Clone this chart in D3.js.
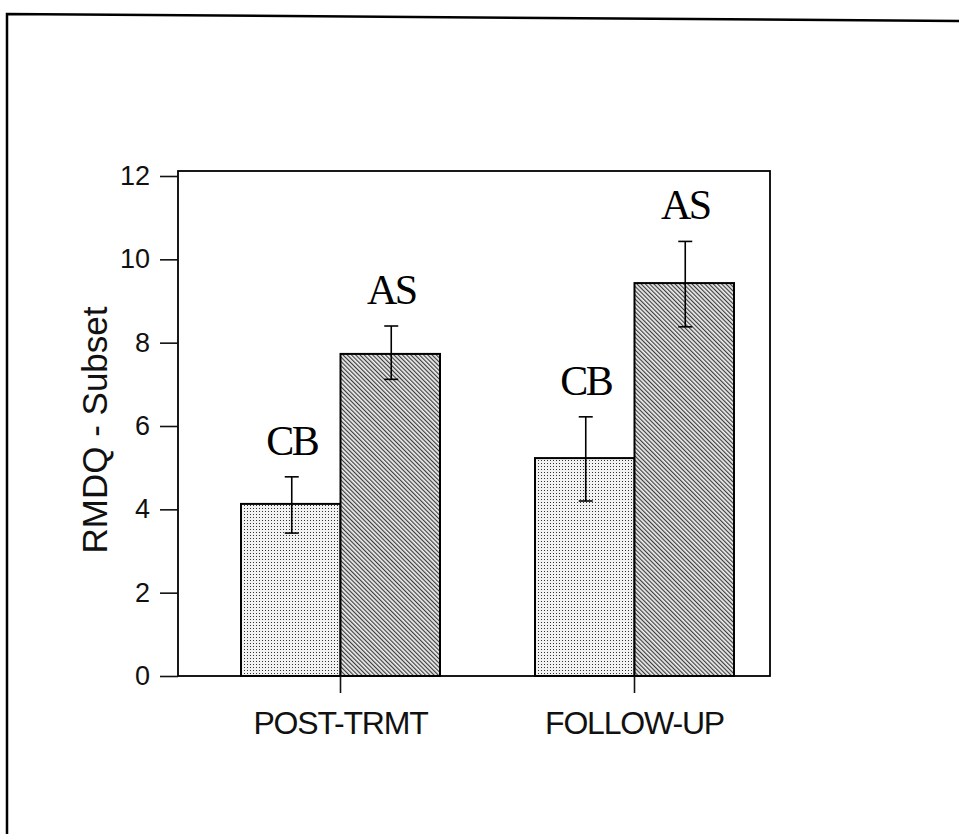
<!DOCTYPE html>
<html>
<head>
    <meta charset="utf-8">
    <title>RMDQ - Subset</title>
    <script src="https://d3js.org/d3.v7.min.js"></script>
    <style>
        body { margin: 0; background: #fff; }
        .tick text { font-family: "Liberation Sans", Arial, sans-serif; fill: #111; }
        .tick line { stroke: #111; stroke-width: 1.6; }
        .domain { display: none; }
    </style>
</head>
<body>
    <div id="chart"></div>

    <script>
        // Data
        var periods = ["POST-TRMT", "FOLLOW-UP"];
        var groups = ["CB", "AS"];
        var cbMean = [4.13, 5.23];
        var asMean = [7.73, 9.43];
        var cbLow = [3.43, 4.20];
        var cbHigh = [4.78, 6.22];
        var asLow = [7.12, 8.38];
        var asHigh = [8.40, 10.43];
        var yTicks = [0, 2, 4, 6, 8, 10, 12];

        var rows = [];
        periods.forEach(function (p, i) {
            rows.push({ period: p, group: "CB", mean: cbMean[i], low: cbLow[i], high: cbHigh[i] });
            rows.push({ period: p, group: "AS", mean: asMean[i], low: asLow[i], high: asHigh[i] });
        });

        var W = 959, H = 834;
        var plot = { left: 178, right: 770, top: 171, bottom: 676 };

        var svg = d3.select("#chart").append("svg")
            .attr("width", W)
            .attr("height", H);

        // fill patterns
        var defs = svg.append("defs");
        var dots = defs.append("pattern")
            .attr("id", "dots")
            .attr("patternUnits", "userSpaceOnUse")
            .attr("width", 3).attr("height", 3);
        dots.append("rect").attr("width", 3).attr("height", 3).attr("fill", "#f2f2f2");
        dots.append("rect").attr("x", 1).attr("y", 1).attr("width", 1).attr("height", 1).attr("fill", "#333");

        var hatch = defs.append("pattern")
            .attr("id", "hatch")
            .attr("patternUnits", "userSpaceOnUse")
            .attr("width", 3).attr("height", 3)
            .attr("patternTransform", "rotate(-45)");
        hatch.append("rect").attr("width", 3).attr("height", 3).attr("fill", "#ececec");
        hatch.append("line").attr("x1", 0.6).attr("y1", 0).attr("x2", 0.6).attr("y2", 3)
            .attr("stroke", "#333").attr("stroke-width", 1.1);

        // outer frame (scanned page border)
        svg.append("path")
            .attr("d", "M959,21 L7,14 L7,834")
            .attr("fill", "none")
            .attr("stroke", "#000")
            .attr("stroke-width", 2.5);

        // scales
        var y = d3.scaleLinear().domain([0, 12]).range([plot.bottom, 176]);
        var x0 = d3.scalePoint().domain(periods).range([340, 634]);
        var x1 = d3.scaleBand().domain(groups).range([-99, 100]);

        // bars
        svg.selectAll(".bar")
            .data(rows)
            .enter().append("rect")
            .attr("class", "bar")
            .attr("x", function (d) { return x0(d.period) + x1(d.group); })
            .attr("width", x1.bandwidth())
            .attr("y", function (d) { return y(d.mean); })
            .attr("height", function (d) { return y(0) - y(d.mean); })
            .attr("fill", function (d) { return d.group === "CB" ? "url(#dots)" : "url(#hatch)"; })
            .attr("stroke", "#000")
            .attr("stroke-width", 2);

        // error bars
        var eb = svg.selectAll(".err")
            .data(rows)
            .enter().append("g")
            .attr("class", "err")
            .attr("transform", function (d) {
                return "translate(" + (x0(d.period) + x1(d.group) + x1.bandwidth() / 2 + 1) + ",0)";
            });
        eb.append("line")
            .attr("y1", function (d) { return y(d.low); })
            .attr("y2", function (d) { return y(d.high); })
            .attr("stroke", "#000").attr("stroke-width", 1.6);
        eb.append("line")
            .attr("x1", -7).attr("x2", 7)
            .attr("y1", function (d) { return y(d.high); })
            .attr("y2", function (d) { return y(d.high); })
            .attr("stroke", "#000").attr("stroke-width", 1.6);
        eb.append("line")
            .attr("x1", -7).attr("x2", 7)
            .attr("y1", function (d) { return y(d.low); })
            .attr("y2", function (d) { return y(d.low); })
            .attr("stroke", "#000").attr("stroke-width", 1.6);

        // group labels above the error bars
        eb.append("text")
            .attr("y", function (d) { return y(d.high) - 22; })
            .attr("text-anchor", "middle")
            .style("font-family", "'Liberation Serif', 'Times New Roman', serif")
            .style("font-size", "42px")
            .style("letter-spacing", "-2.5px")
            .text(function (d) { return d.group; });

        // plot box
        svg.append("rect")
            .attr("x", plot.left)
            .attr("y", plot.top)
            .attr("width", plot.right - plot.left)
            .attr("height", plot.bottom - plot.top)
            .attr("fill", "none")
            .attr("stroke", "#000")
            .attr("stroke-width", 1.8);

        // y axis
        var yAxis = svg.append("g")
            .attr("transform", "translate(" + plot.left + ",0)")
            .call(d3.axisLeft(y).tickValues(yTicks).tickSize(18).tickPadding(10));
        yAxis.selectAll("text").style("font-size", "27px");

        // x axis
        var xAxis = svg.append("g")
            .attr("transform", "translate(0," + plot.bottom + ")")
            .call(d3.axisBottom(x0).tickSize(17).tickPadding(18));
        xAxis.selectAll("text")
            .style("font-size", "32px")
            .style("letter-spacing", "-1.2px");

        // y title
        svg.append("text")
            .attr("transform", "translate(107,430) rotate(-90)")
            .attr("text-anchor", "middle")
            .style("font-family", "'Liberation Sans', Arial, sans-serif")
            .style("font-size", "35px")
            .style("fill", "#111")
            .text("RMDQ - Subset");
    </script>
</body>
</html>
